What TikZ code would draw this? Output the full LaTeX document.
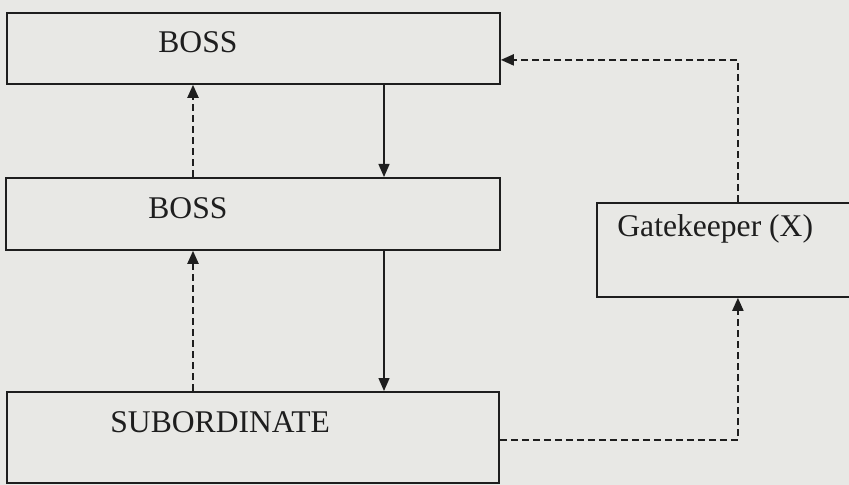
\documentclass[tikz,border=0pt]{standalone}
\usepackage{fontspec}
\setmainfont{Liberation Serif}
\usetikzlibrary{arrows.meta,backgrounds}

\definecolor{paper}{RGB}{232,232,229}
\definecolor{ink}{RGB}{30,30,30}

\begin{document}
\begin{tikzpicture}[%
    x=0.5pt, y=-0.5pt,
    box/.style={
        draw=ink,
        line width=0.9pt,
        rectangle,
        anchor=north west,
        inner sep=0pt
        },
    boxtext/.style={%
        anchor=base west,
        inner sep=0pt,
        text=ink,
        font=\fontsize{15.8}{18}\selectfont},
    link/.style={%
        draw=ink,
        line width=0.7pt,
        -{Triangle[length=6.5pt,width=5.5pt]}},
    dashlink/.style={%
        link,
        line width=1pt,
        dash pattern=on 3.5pt off 2pt},
]

\fill[paper] (0,0) rectangle (849,485);
\useasboundingbox (0,0) rectangle (849,485);

\node[box, minimum width=246.5pt, minimum height=35.5pt] (boss1) at (6,12) {};
\node[box, minimum width=247pt, minimum height=36pt] (boss2) at (5,177) {};
\node[box, minimum width=246pt, minimum height=45.5pt] (sub) at (6,391) {};
\node[box, minimum width=141pt, minimum height=47pt] (gate) at (596,202) {};

\node[boxtext] (boss1txt) at ([shift={(76pt,-20.5pt)}]boss1.north west) {BOSS};
\node[boxtext] (boss2txt) at ([shift={(71.5pt,-21pt)}]boss2.north west) {BOSS};
\node[boxtext] (subtxt) at ([shift={(52pt,-20.5pt)}]sub.north west) {SUBORDINATE};
\node[boxtext] (gatetxt) at ([shift={(10.5pt,-17.5pt)}]gate.north west) {Gatekeeper (X)};

\coordinate (down) at ([xshift=189pt]boss1.south west);
\coordinate (up) at ([xshift=93.5pt]sub.north west);
\coordinate (subout) at ([yshift=-1.25pt]sub.east);
\coordinate (bossin) at ([yshift=-5.75pt]boss1.east);
\coordinate (corner) at (gate.south |- subout);
\coordinate (turn) at (gate.north |- bossin);

\draw[link] (down) -- (down |- boss2.north);
\draw[link] (down |- boss2.south) -- (down |- sub.north);
\draw[dashlink] (up) -- (up |- boss2.south);
\draw[dashlink] (up |- boss2.north) -- (up |- boss1.south);
\draw[dashlink] (subout) -- (corner) -- (gate.south);
\draw[dashlink] (gate.north) -- (turn) -- (bossin);
\end{tikzpicture}
\end{document}
